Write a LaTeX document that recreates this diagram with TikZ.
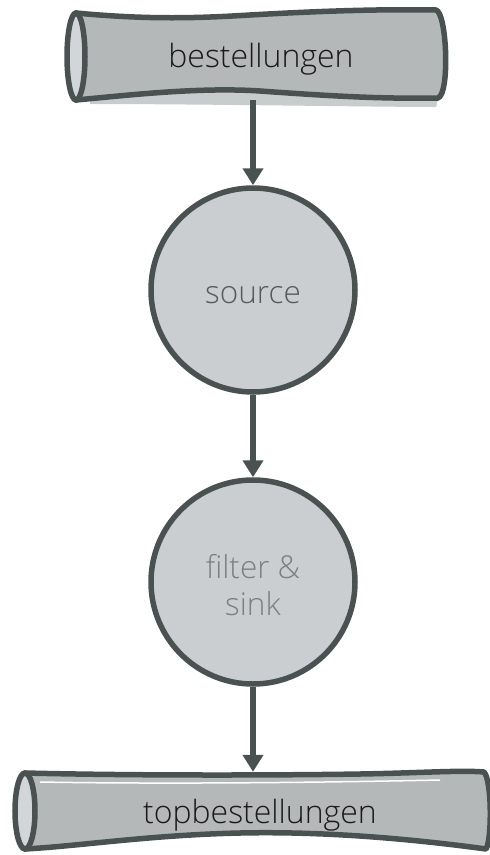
\documentclass[tikz,border=0pt]{standalone}
\usepackage{fontspec}
\setmainfont{Open Sans}[UprightFont={* Light}]
\usetikzlibrary{arrows.meta}
\definecolor{strk}{HTML}{4A5151}
\definecolor{cylfill}{HTML}{B5B8B9}
\definecolor{endfill}{HTML}{D2D6D8}
\definecolor{circfill}{HTML}{CBCED1}
\definecolor{shadowc}{HTML}{C9CCCD}
\definecolor{srctext}{HTML}{555A5A}
\definecolor{filttext}{HTML}{7C8081}
\definecolor{cyltext}{HTML}{1A1A1A}
\tikzset{
  cyl/.style={draw=strk, fill=cylfill, line width=5.5pt, line join=round},
  cylend/.style={draw=strk, fill=endfill, line width=5.5pt},
  proc/.style={circle, draw=strk, fill=circfill, line width=5.5pt, minimum size=204pt, inner sep=0pt},
  proctext/.style={inner sep=0pt, align=center, font=\fontsize{31.5}{37}\selectfont},
  cylbox/.style={rectangle, inner sep=0pt},
  cyllabel/.style={inner sep=0pt, text=cyltext, font=\fontsize{32}{38}\selectfont},
  flow/.style={draw=strk, line width=6pt, -{Triangle[length=17pt,width=20pt]}}
}
\begin{document}
\begin{tikzpicture}[x=1pt,y=-1pt]
\useasboundingbox (0,0) rectangle (490,855);
% top cylinder
\fill[shadowc] (90,98) .. controls (160,92) and (210,88) .. (260,91) .. controls (330,96) and (390,99) .. (438,99) -- (436,107) .. controls (380,107) and (200,104) .. (90,104) -- cycle;
\draw[cyl] (76,13) .. controls (150,20) and (200,18) .. (250,15) .. controls (320,11) and (380,9) .. (436,10) .. controls (447,13) and (450,94) .. (438,98) .. controls (380,99) and (330,96) .. (260,91) .. controls (200,87) and (130,95) .. (76,100) -- cycle;
\draw[cylend] (76,56.5) ellipse [x radius=9, y radius=43.5];
\node[cylbox, minimum width=360pt, minimum height=86pt] (bestellungen) at (261,57) {};
\node[cyllabel] (bestellungentext) at (261,59) {bestellungen};
% bottom cylinder
\draw[cyl] (25,773) .. controls (150,776) and (300,775) .. (360,774) .. controls (420,773) and (460,770) .. (484,772) .. controls (492,780) and (492,840) .. (486,849) .. controls (420,840) and (330,831) .. (240,833) .. controls (150,835) and (80,846) .. (25,849) -- cycle;
\draw[white, line width=1.5pt] (40,782) .. controls (150,784) and (300,783) .. (440,780);
\draw[cylend] (25,811) ellipse [x radius=10, y radius=38];
\node[cylbox, minimum width=440pt, minimum height=78pt] (topbestellungen) at (260,811) {};
\node[cyllabel] (topbestellungentext) at (260,815) {topbestellungen};
% processes
\node[proc] (source) at (253,290) {};
\node[proctext, text=srctext] (sourcetext) at (253,295) {source};
\node[proc] (filter) at (253,582) {};
\node[proctext, text=filttext] (filtertext) at (253,585) {filter \&\\sink};
% flows
\draw[flow] (bestellungen.south -| source.north) -- (source.north);
\draw[flow] (source.south) -- (filter.north);
\draw[flow] (filter.south) -- (topbestellungen.north -| filter.south);
\end{tikzpicture}
\end{document}
